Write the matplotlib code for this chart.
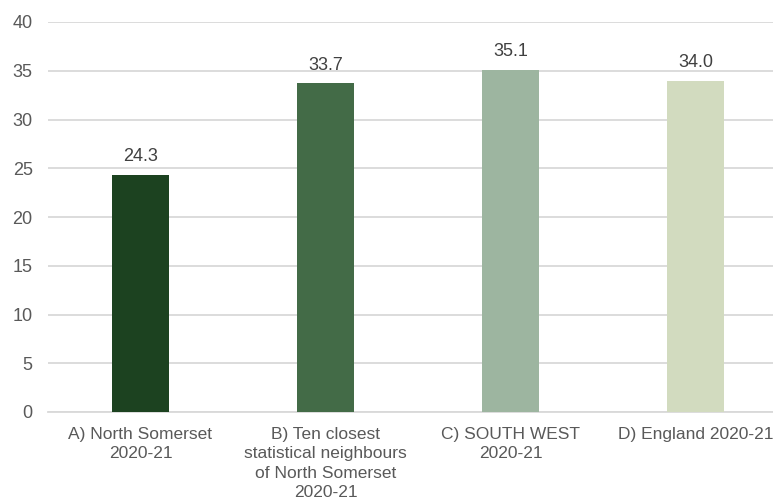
import matplotlib
matplotlib.use("Agg")
import matplotlib.pyplot as plt

categories = [
    "A) North Somerset\n2020-21",
    "B) Ten closest\nstatistical neighbours\nof North Somerset\n2020-21",
    "C) SOUTH WEST\n2020-21",
    "D) England 2020-21",
]
values = [24.3, 33.7, 35.1, 34.0]
colors = ["#1c4220", "#436b47", "#9db5a0", "#d2dbbf"]
yticks = [0, 5, 10, 15, 20, 25, 30, 35, 40]

fig = plt.figure(figsize=(7.73, 5.03), dpi=100)
# axes run slightly past the right edge so the gridlines reach the border
ax = fig.add_axes([48 / 773, (503 - 412) / 503, 740 / 773, 390 / 503])

x = list(range(len(values)))
ax.bar(x, values, width=0.31, color=colors, zorder=3)

for xi, v in zip(x, values):
    ax.annotate(f"{v:.1f}", (xi, v), textcoords="offset points", xytext=(0, 7),
                ha="center", va="bottom", fontsize=13, color="#404040",
                family="Liberation Sans")

ax.set_xlim(-0.5, 3.5)
ax.set_ylim(0, 40)
ax.set_yticks(yticks)
ax.set_yticklabels([str(t) for t in yticks], family="Liberation Sans",
                   fontsize=13, color="#595959")
ax.set_xticks(x)
ax.set_xticklabels(categories, family="Liberation Sans",
                   fontsize=12.5, color="#595959", linespacing=1.35)
ax.tick_params(axis="both", length=0)
ax.tick_params(axis="y", pad=11)
ax.tick_params(axis="x", pad=11)
ax.grid(axis="y", color="#d9d9d9", linewidth=1.3, zorder=0)
for side in ("top", "right", "left"):
    ax.spines[side].set_visible(False)
ax.spines["bottom"].set_color("#d9d9d9")
ax.spines["bottom"].set_linewidth(1.3)

fig.savefig("out.png", dpi=100)
